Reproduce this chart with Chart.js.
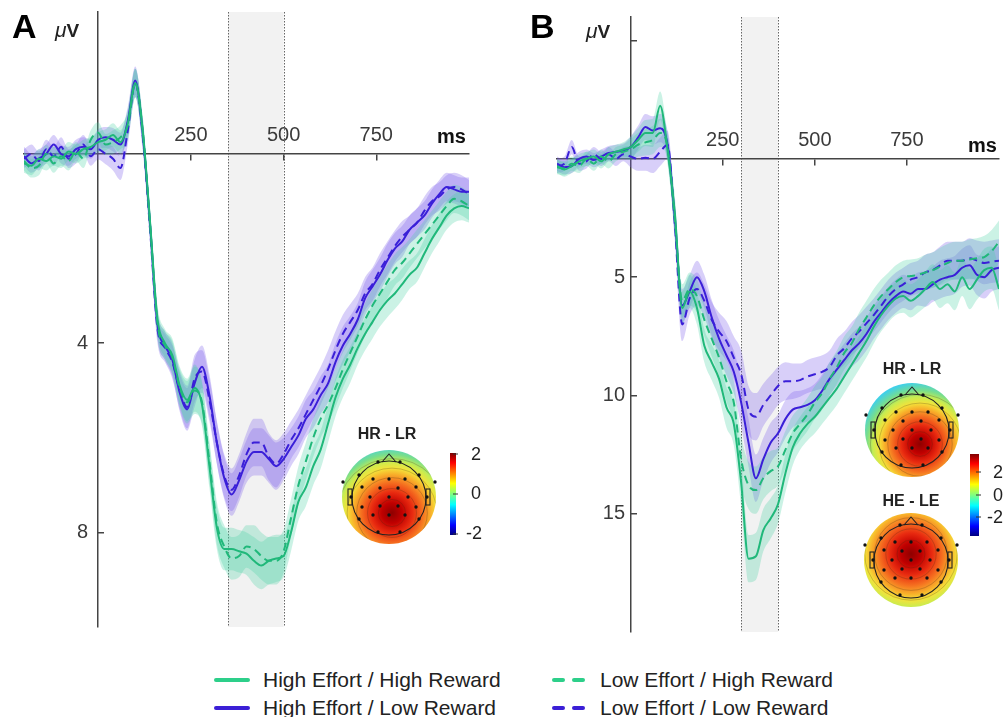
<!DOCTYPE html>
<html>
<head>
<meta charset="utf-8">
<script src="https://cdn.jsdelivr.net/npm/chart.js@4.4.1/dist/chart.umd.min.js"></script>
<style>
  body { margin: 0; background: #fff; }
  #wrap { position: relative; width: 1004px; height: 717px; overflow: hidden; background: #fff;
          font-family: 'Liberation Sans', Arial, Helvetica, sans-serif; color: #222; }
  canvas { position: absolute; top: 0; }
  .t { position: absolute; line-height: 1; white-space: nowrap; }
  .panel { font-weight: bold; font-size: 34px; color: #000; }
  .unit { font-size: 19px; color: #222; }
  .unit i { font-style: italic; font-size: 21px; }
  .unit b { font-weight: bold; }
  .ms { font-size: 20px; font-weight: bold; color: #111; }
  .topo { font-size: 16px; font-weight: bold; color: #222; transform: translateX(-50%); }
  .cb { font-size: 18px; color: #222; }
  .lg { font-size: 21px; color: #222; }
  .ln { position: absolute; height: 4px; border-radius: 2px; }
</style>
</head>
<body>
<div id="wrap">
  <canvas id="chartA" width="500" height="645" style="left:0"></canvas>
  <canvas id="chartB" width="504" height="645" style="left:500px"></canvas>

  <div class="t panel" style="left:12px;top:9px">A</div>
  <div class="t unit" style="left:55px;top:19px"><i>μ</i><b>V</b></div>
  <div class="t ms" style="left:437px;top:126px">ms</div>

  <div class="t panel" style="left:530px;top:9px">B</div>
  <div class="t unit" style="left:586px;top:20px"><i>μ</i><b>V</b></div>
  <div class="t ms" style="left:968px;top:135px">ms</div>

  <div class="t topo" style="left:387px;top:426px">HR - LR</div>
  <div class="t cb" style="left:471px;top:445px">2</div>
  <div class="t cb" style="left:471px;top:484px">0</div>
  <div class="t cb" style="left:466px;top:524px">-2</div>

  <div class="t topo" style="left:912px;top:361px">HR - LR</div>
  <div class="t topo" style="left:911px;top:493px">HE - LE</div>
  <div class="t cb" style="left:993px;top:463px">2</div>
  <div class="t cb" style="left:993px;top:486px">0</div>
  <div class="t cb" style="left:987px;top:508px">-2</div>

  <div class="ln" style="left:214px;top:678px;width:36px;background:#2dcf8a"></div>
  <div class="t lg" style="left:263px;top:669px">High Effort / High Reward</div>
  <div class="ln" style="left:214px;top:706px;width:36px;background:#3b1fd6"></div>
  <div class="t lg" style="left:263px;top:697px">High Effort / Low Reward</div>
  <div class="ln" style="left:552px;top:678px;width:13px;background:#2dcf8a"></div>
  <div class="ln" style="left:572px;top:678px;width:13px;background:#2dcf8a"></div>
  <div class="t lg" style="left:600px;top:669px">Low Effort / High Reward</div>
  <div class="ln" style="left:552px;top:706px;width:13px;background:#3b1fd6"></div>
  <div class="ln" style="left:572px;top:706px;width:13px;background:#3b1fd6"></div>
  <div class="t lg" style="left:600px;top:697px">Low Effort / Low Reward</div>
</div>

<script>
// time points (ms)
const times = [-200,-180,-160,-140,-120,-100,-80,-60,-40,-20,0,20,40,60,80,100,120,140,160,180,
  200,220,240,260,280,300,320,340,360,380,400,420,440,460,480,500,520,540,560,580,
  600,620,640,660,680,700,720,740,760,780,800,820,840,860,880,900,920,940,960,980,1000];

// Panel A (uV)
const aHEHR = [0.2,0.25,0.1,0.15,0.05,0.1,-0.05,0.0,-0.1,-0.15,-0.25,-0.3,-0.4,-0.25,-0.65,-1.5,-0.5,1.45,3.5,4.0,
  4.25,4.9,5.2,4.95,5.3,6.6,7.9,8.35,8.35,8.4,8.45,8.6,8.7,8.6,8.55,8.5,8.0,7.35,7.05,6.6,
  6.25,5.7,5.15,4.75,4.45,4.1,3.8,3.55,3.3,3.1,2.95,2.75,2.55,2.4,2.1,1.8,1.55,1.3,1.15,1.1,1.15];
const aHELR = [0.05,0.2,0.1,0.0,-0.2,0.0,0.05,-0.1,-0.15,-0.1,-0.3,-0.35,-0.3,-0.2,-0.7,-1.55,-0.45,1.5,3.6,4.05,
  4.35,5.05,5.4,4.85,4.5,5.1,6.1,6.85,7.2,6.9,6.5,6.3,6.3,6.45,6.6,6.45,6.2,5.95,5.6,5.4,
  5.1,4.85,4.4,4.05,3.8,3.5,3.05,2.8,2.55,2.25,2.0,1.85,1.6,1.45,1.3,1.05,0.85,0.7,0.75,0.8,0.8];
const aLEHR = [0.15,0.3,0.25,0.0,0.2,0.05,0.15,-0.05,0.1,-0.3,-0.45,-0.2,-0.25,-0.35,-0.6,-1.5,-0.5,1.5,3.6,4.05,
  4.3,4.95,5.25,5.0,5.25,6.5,7.8,8.3,8.55,8.5,8.3,8.35,8.5,8.6,8.6,8.4,7.7,7.0,6.5,6.0,
  5.6,5.3,4.95,4.55,4.2,3.85,3.5,3.2,2.95,2.7,2.45,2.3,2.1,1.9,1.7,1.5,1.3,1.1,0.95,1.0,1.1];
const aLELR = [0.1,0.0,0.15,-0.1,0.05,-0.15,0.1,0.0,-0.2,0.05,-0.1,0.0,0.1,0.3,-0.5,-1.5,-0.4,1.6,3.7,4.1,
  4.4,5.0,5.35,4.75,4.6,5.2,6.1,6.8,7.1,6.8,6.35,6.1,6.1,6.4,6.55,6.35,6.05,5.8,5.5,5.2,
  4.9,4.55,4.15,3.8,3.55,3.3,2.95,2.75,2.45,2.2,1.95,1.75,1.6,1.45,1.2,1.0,0.9,0.75,0.7,0.75,0.85];
const aSE = [0.2,0.2,0.2,0.2,0.2,0.2,0.2,0.2,0.2,0.2,0.22,0.22,0.25,0.25,0.3,0.3,0.3,0.3,0.3,0.3,
  0.35,0.4,0.45,0.5,0.45,0.45,0.45,0.45,0.45,0.45,0.45,0.5,0.5,0.5,0.5,0.45,0.4,0.4,0.4,0.4,
  0.4,0.4,0.4,0.4,0.38,0.35,0.35,0.35,0.35,0.35,0.33,0.33,0.3,0.3,0.3,0.3,0.3,0.3,0.3,0.3,0.3];

// Panel B (uV)
const bHEHR = [0.3,0.45,0.3,0.1,0.0,-0.1,0.1,-0.2,-0.3,-0.4,-0.5,-0.8,-1.1,-1.1,-2.25,-0.4,2.3,6.3,5.6,6.3,
  7.9,8.6,9.3,10.5,11.2,13.7,16.9,16.8,15.7,15.2,14.6,13.3,12.2,11.6,11.2,10.9,10.5,10.1,9.7,9.2,
  8.7,8.2,7.7,7.1,6.6,6.2,5.9,5.8,6.0,5.8,5.5,5.2,5.5,5.3,5.6,5.0,5.5,5.1,4.7,4.6,5.5];
const bHELR = [0.2,0.35,0.3,0.0,-0.1,0.05,-0.1,-0.25,-0.3,-0.35,-0.5,-0.9,-1.35,-1.2,-1.3,-0.6,2.5,6.2,5.6,5.0,
  5.6,6.7,7.6,8.3,9.0,10.3,12.0,13.5,12.7,12.0,11.6,11.0,10.6,10.5,10.4,10.2,9.8,9.3,8.9,8.5,
  8.1,7.8,7.4,6.9,6.5,6.1,5.8,5.6,5.7,5.5,5.5,5.3,5.1,5.0,4.9,4.6,4.5,4.9,5.0,4.7,4.6];
const bLEHR = [0.35,0.4,0.2,0.3,0.0,0.2,-0.1,0.1,-0.2,-0.3,-0.4,-0.6,-0.7,-0.8,-1.1,-0.5,2.6,6.0,5.5,5.8,
  6.8,7.6,8.4,9.4,10.3,12.7,13.8,14.0,13.5,13.2,13.0,12.3,11.6,11.2,10.8,10.3,9.9,9.3,8.8,8.2,
  7.8,7.2,6.7,6.2,5.8,5.5,5.2,5.0,4.95,4.9,4.8,4.7,4.55,4.4,4.3,4.3,4.25,4.2,4.15,3.9,3.5];
const bLELR = [0.3,0.2,-0.5,0.2,0.1,-0.2,0.0,-0.2,0.0,-0.2,-0.1,0.0,-0.05,0.0,-0.3,-0.6,2.8,7.0,5.9,5.5,
  6.0,6.8,7.3,7.7,8.4,9.1,10.6,10.9,10.4,10.0,9.6,9.4,9.4,9.35,9.2,9.1,9.0,8.8,8.3,8.0,
  7.6,7.3,6.95,6.6,6.2,5.8,5.5,5.3,5.1,5.0,4.8,4.7,4.5,4.3,4.3,4.3,4.2,4.3,4.4,4.35,4.3];
const bSE = [0.3,0.3,0.3,0.3,0.3,0.3,0.3,0.3,0.3,0.3,0.45,0.5,0.55,0.6,0.6,0.6,0.7,0.7,0.7,0.7,
  0.7,0.75,0.8,0.85,0.9,1.0,1.0,1.0,0.9,0.85,0.8,0.8,0.75,0.7,0.7,0.7,0.7,0.7,0.7,0.7,
  0.7,0.7,0.7,0.7,0.7,0.7,0.7,0.7,0.7,0.7,0.75,0.75,0.8,0.8,0.8,0.8,0.85,0.85,0.9,0.9,0.9];

// axes
const xTicks = [250, 500, 750];
const yTicksA = [4, 8];
const yTicksB = [-5, 5, 10, 15];
const yLabelsB = [5, 10, 15];
const windowA = [350, 500];
const windowB = [300, 400];

const GREEN = '#20b87a', BLUE = '#3a1fd8';
const GREEN_BAND = 'rgba(70,210,160,0.28)', BLUE_BAND = 'rgba(125,95,235,0.30)';
const FONT = "'Liberation Sans', Arial, Helvetica, sans-serif";

const ELECTRODES = [[-11,-35],[11,-35],[-30,-22],[30,-22],[-16,-18],[0,-18],[16,-18],[-46,-15],[46,-15],
  [-27,-10],[-9,-9],[9,-9],[27,-10],[-38,0],[-19,0],[0,0],[19,0],[38,0],[-27,10],[-9,9],[9,9],[27,10],
  [-16,18],[0,18],[16,18],[-30,22],[30,22],[-11,35],[11,35]];

function drawTopo(ctx, t) {
  const R = 47;
  ctx.save();
  ctx.beginPath(); ctx.arc(t.cx, t.cy, R, 0, Math.PI * 2); ctx.clip();
  const hx = t.cx + t.hx, hy = t.cy + t.hy;
  const g = ctx.createRadialGradient(hx, hy, 0, hx, hy, t.rg);
  g.addColorStop(0, '#8e0000'); g.addColorStop(0.15, '#c00000'); g.addColorStop(0.3, '#e82a10');
  g.addColorStop(0.45, '#f57020'); g.addColorStop(0.57, '#f8b02a'); g.addColorStop(0.66, '#f4e23a');
  g.addColorStop(0.76, '#c8ec50'); g.addColorStop(0.86, '#7ade8a'); g.addColorStop(1, '#40d0e8');
  ctx.fillStyle = g; ctx.fillRect(t.cx - R, t.cy - R, 2 * R, 2 * R);
  ctx.strokeStyle = 'rgba(60,40,20,0.35)'; ctx.lineWidth = 0.7;
  [0.2, 0.36, 0.52, 0.66, 0.8].forEach(f => { ctx.beginPath(); ctx.arc(hx, hy, f * t.rg, 0, Math.PI * 2); ctx.stroke(); });
  ctx.restore();
  ctx.save();
  ctx.strokeStyle = '#222'; ctx.lineWidth = 1.1;
  ctx.beginPath(); ctx.arc(t.cx, t.cy + 1, 37, 0, Math.PI * 2); ctx.stroke();
  ctx.beginPath(); ctx.moveTo(t.cx - 7, t.cy - 35); ctx.lineTo(t.cx, t.cy - 43); ctx.lineTo(t.cx + 7, t.cy - 35); ctx.stroke();
  ctx.strokeRect(t.cx - 41, t.cy - 8, 4, 16); ctx.strokeRect(t.cx + 37, t.cy - 8, 4, 16);
  ctx.fillStyle = '#111';
  ELECTRODES.forEach(([dx, dy]) => { ctx.beginPath(); ctx.arc(t.cx + dx, t.cy + dy, 1.7, 0, Math.PI * 2); ctx.fill(); });
  ctx.restore();
}

function drawColorbar(ctx, b) {
  const g = ctx.createLinearGradient(0, b.y, 0, b.y + b.h);
  g.addColorStop(0, '#7f0000'); g.addColorStop(0.12, '#ff0000'); g.addColorStop(0.37, '#ffff00');
  g.addColorStop(0.5, '#80ff80'); g.addColorStop(0.63, '#00ffff'); g.addColorStop(0.88, '#0000ff');
  g.addColorStop(1, '#00007f');
  ctx.save();
  ctx.fillStyle = g; ctx.fillRect(b.x, b.y, b.w, b.h);
  ctx.strokeStyle = '#333'; ctx.lineWidth = 1;
  b.ticks.forEach(y => { ctx.beginPath(); ctx.moveTo(b.x + b.w - 3, y); ctx.lineTo(b.x + b.w + 2, y); ctx.stroke(); });
  ctx.restore();
}

function makeDecor(win, topos, bars) {
  return {
    id: 'panelDecor',
    beforeDraw(chart) {
      const { ctx, chartArea, scales } = chart;
      const x0 = scales.x.getPixelForValue(win[0]), x1 = scales.x.getPixelForValue(win[1]);
      ctx.save();
      ctx.fillStyle = '#f2f2f2';
      ctx.fillRect(x0, chartArea.top, x1 - x0, chartArea.bottom - chartArea.top);
      ctx.strokeStyle = '#666'; ctx.lineWidth = 1; ctx.setLineDash([1.5, 1.5]);
      [x0, x1].forEach(x => {
        ctx.beginPath(); ctx.moveTo(Math.round(x) + 0.5, chartArea.top); ctx.lineTo(Math.round(x) + 0.5, chartArea.bottom); ctx.stroke();
      });
      ctx.restore();
    },
    afterDraw(chart) {
      topos.forEach(t => drawTopo(chart.ctx, t));
      bars.forEach(b => drawColorbar(chart.ctx, b));
    }
  };
}

function seriesSets(vals, se, color, band, dashed) {
  const pts = arr => times.map((t, i) => ({ x: t, y: arr[i] }));
  return [
    { data: pts(vals), borderColor: color, borderWidth: 2, borderDash: dashed ? [8, 5] : [], fill: false, order: 1 },
    { data: pts(vals.map((v, i) => v + se[i])), borderWidth: 0, backgroundColor: band, fill: '+1', order: 2 },
    { data: pts(vals.map((v, i) => v - se[i])), borderWidth: 0, fill: false, order: 2 }
  ];
}

function buildPanel(id, series, se, yMin, yMax, yTicks, yLabel, labelGap, win, padding, topos, bars) {
  const sets = [];
  series.forEach(s => sets.push(...seriesSets(s.vals, se, s.color, s.band, s.dashed)));
  return new Chart(document.getElementById(id), {
    type: 'line',
    data: { datasets: sets },
    options: {
      responsive: false,
      animation: false,
      layout: { padding },
      plugins: { legend: { display: false }, tooltip: { enabled: false } },
      elements: { point: { radius: 0 }, line: { cubicInterpolationMode: 'monotone' } },
      scales: {
        x: {
          type: 'linear', min: -200, max: 1000, position: { y: 0 },
          afterBuildTicks: s => { s.ticks = xTicks.map(v => ({ value: v })); },
          afterFit: s => { s.height = 0; s.paddingLeft = 0; s.paddingRight = 0; },
          grid: { drawOnChartArea: false, tickLength: 6, color: '#444', lineWidth: 1.5 },
          border: { color: '#444', width: 1.5 },
          ticks: { padding: -36, autoSkip: false, maxRotation: 0, color: '#3a3a3a', font: { family: FONT, size: 20 } }
        },
        y: {
          type: 'linear', min: yMin, max: yMax, reverse: true, position: { x: 0 },
          afterBuildTicks: s => { s.ticks = yTicks.map(v => ({ value: v })); },
          afterFit: s => { s.width = 0; s.paddingTop = 0; s.paddingBottom = 0; },
          grid: { drawOnChartArea: false, tickLength: -7, color: '#444', lineWidth: 1.5 },
          border: { color: '#444', width: 1.5 },
          ticks: { autoSkip: false, color: '#3a3a3a', font: { family: FONT, size: 20 },
                   callback: v => yLabel.includes(v) ? String(v) + labelGap : '' }
        }
      }
    },
    plugins: [makeDecor(win, topos, bars)]
  });
}

buildPanel('chartA', [
    { vals: aHEHR, color: GREEN, band: GREEN_BAND, dashed: false },
    { vals: aLEHR, color: GREEN, band: GREEN_BAND, dashed: true },
    { vals: aHELR, color: BLUE, band: BLUE_BAND, dashed: false },
    { vals: aLELR, color: BLUE, band: BLUE_BAND, dashed: true }
  ], aSE, -3, 10, yTicksA, yTicksA, '\u2002', windowA,
  { left: 24, right: 31, top: 12, bottom: 18 },
  [{ cx: 389, cy: 497, hx: 3, hy: 16, rg: 68 }],
  [{ x: 450, y: 453, w: 6, h: 82, ticks: [454, 494, 534] }]);

buildPanel('chartB', [
    { vals: bHEHR, color: GREEN, band: GREEN_BAND, dashed: false },
    { vals: bLEHR, color: GREEN, band: GREEN_BAND, dashed: true },
    { vals: bHELR, color: BLUE, band: BLUE_BAND, dashed: false },
    { vals: bLELR, color: BLUE, band: BLUE_BAND, dashed: true }
  ], bSE, -6, 20, yTicksB, yLabelsB, ' ', windowB,
  { left: 57, right: 5, top: 17, bottom: 13 },
  [{ cx: 412, cy: 430, hx: 8, hy: 14, rg: 62 }, { cx: 411, cy: 560, hx: 0, hy: -6, rg: 70 }],
  [{ x: 470, y: 454, w: 9, h: 82, ticks: [472, 495, 517] }]);
</script>
</body>
</html>
